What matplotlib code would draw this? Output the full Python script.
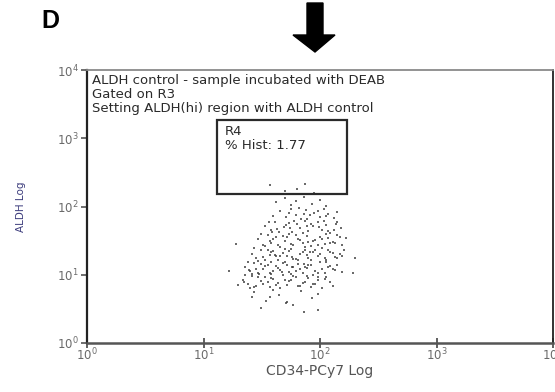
import matplotlib
matplotlib.use("Agg")
import matplotlib.pyplot as plt
import numpy as np
from matplotlib.patches import Polygon, Rectangle

# events, stored as log10 values, grouped by band of ALDH
in_gate_x = [1.57, 1.87, 1.70, 1.80, 1.95]
in_gate_y = [2.32, 2.33, 2.22, 2.25, 2.20]

top_x = [1.62, 1.70, 1.79, 1.86, 1.93, 2.00, 2.05, 1.75]
top_y = [2.06, 2.12, 2.08, 2.14, 2.03, 2.09, 2.01, 2.02]

band_a_x = [1.60, 1.66, 1.71, 1.75, 1.79, 1.84, 1.88, 1.91, 1.95, 2.00,
            2.03, 2.07, 2.12, 2.15, 1.73, 1.82, 1.89, 1.98, 2.05, 1.86]
band_a_y = [1.86, 1.93, 1.84, 1.97, 1.88, 1.82, 1.95, 1.87, 1.91, 1.85,
            1.96, 1.89, 1.83, 1.92, 1.90, 1.98, 1.81, 1.94, 1.86, 1.89]

band_b_x = [1.53, 1.58, 1.61, 1.65, 1.69, 1.73, 1.76, 1.80, 1.83, 1.87,
            1.90, 1.94, 1.98, 2.02, 2.05, 2.09, 2.14, 2.18, 1.56, 1.63,
            1.71, 1.78, 1.85, 1.92, 1.99, 2.07, 2.15, 1.59, 1.74, 1.89,
            2.03, 2.12]
band_b_y = [1.72, 1.65, 1.78, 1.62, 1.70, 1.76, 1.63, 1.74, 1.68, 1.79,
            1.64, 1.71, 1.77, 1.66, 1.73, 1.61, 1.75, 1.69, 1.78, 1.67,
            1.73, 1.79, 1.61, 1.75, 1.70, 1.64, 1.77, 1.63, 1.68, 1.72,
            1.79, 1.66]

band_c_x = [1.47, 1.51, 1.55, 1.58, 1.62, 1.66, 1.70, 1.73, 1.77, 1.81,
            1.85, 1.89, 1.92, 1.96, 2.00, 2.04, 2.07, 2.11, 2.15, 2.19,
            1.49, 1.57, 1.64, 1.72, 1.79, 1.87, 1.94, 2.02, 2.09, 2.17,
            1.53, 1.60, 1.68, 1.75, 1.83, 1.90, 1.98, 2.05, 2.13, 2.22]
band_c_y = [1.52, 1.44, 1.58, 1.47, 1.55, 1.41, 1.50, 1.59, 1.43, 1.53,
            1.46, 1.57, 1.42, 1.51, 1.56, 1.45, 1.54, 1.48, 1.58, 1.43,
            1.59, 1.49, 1.44, 1.55, 1.58, 1.41, 1.50, 1.53, 1.46, 1.56,
            1.42, 1.52, 1.57, 1.45, 1.51, 1.48, 1.43, 1.59, 1.47, 1.54]

band_d_x = [1.42, 1.45, 1.49, 1.53, 1.57, 1.60, 1.64, 1.68, 1.72, 1.75,
            1.79, 1.83, 1.87, 1.90, 1.94, 1.98, 2.02, 2.05, 2.09, 2.13,
            2.17, 2.21, 1.43, 1.51, 1.58, 1.66, 1.73, 1.81, 1.89, 1.96,
            2.04, 2.11, 2.19, 1.47, 1.55, 1.62, 1.70, 1.77, 1.85, 1.92,
            2.00, 2.07, 2.15, 1.61, 1.76, 1.91]
band_d_y = [1.31, 1.24, 1.37, 1.22, 1.29, 1.35, 1.21, 1.32, 1.27, 1.38,
            1.23, 1.30, 1.36, 1.25, 1.33, 1.28, 1.39, 1.22, 1.34, 1.26,
            1.31, 1.37, 1.39, 1.26, 1.33, 1.28, 1.35, 1.21, 1.29, 1.37,
            1.24, 1.32, 1.27, 1.20, 1.36, 1.27, 1.38, 1.23, 1.34, 1.21,
            1.30, 1.37, 1.25, 1.29, 1.26, 1.34]

band_e_x = [1.36, 1.40, 1.43, 1.47, 1.51, 1.55, 1.58, 1.62, 1.66, 1.70,
            1.73, 1.77, 1.81, 1.85, 1.89, 1.92, 1.96, 2.00, 2.04, 2.07,
            2.11, 2.15, 2.19, 1.38, 1.45, 1.53, 1.60, 1.68, 1.75, 1.83,
            1.90, 1.98, 2.05, 2.13, 1.42, 1.49, 1.57, 1.64, 1.72, 1.79,
            1.87, 1.94, 2.02, 2.09, 1.39, 1.48, 1.58, 1.67, 1.76, 1.86]
band_e_y = [1.12, 1.05, 1.17, 1.02, 1.09, 1.15, 1.01, 1.13, 1.07, 1.18,
            1.04, 1.11, 1.16, 1.03, 1.10, 1.14, 1.06, 1.19, 1.02, 1.12,
            1.08, 1.15, 1.04, 1.19, 1.08, 1.13, 1.05, 1.17, 1.01, 1.09,
            1.14, 1.02, 1.18, 1.07, 1.01, 1.16, 1.03, 1.10, 1.15, 1.06,
            1.12, 1.00, 1.08, 1.13, 1.07, 1.01, 1.19, 1.04, 1.11, 1.16]

band_f_x = [1.34, 1.38, 1.42, 1.45, 1.49, 1.53, 1.57, 1.60, 1.64, 1.68,
            1.72, 1.75, 1.79, 1.83, 1.87, 1.90, 1.94, 1.98, 2.02, 2.05,
            2.09, 1.36, 1.43, 1.51, 1.58, 1.66, 1.73, 1.81, 1.89, 1.96,
            2.04, 2.11, 1.40, 1.47, 1.55, 1.62, 1.70, 1.77, 1.85, 1.92,
            1.98, 1.35]
band_f_y = [0.93, 0.86, 0.98, 0.84, 0.91, 0.96, 0.82, 0.94, 0.88, 0.99,
            0.85, 0.92, 0.97, 0.83, 0.90, 0.95, 0.87, 0.93, 0.81, 0.96,
            0.89, 0.99, 0.82, 0.87, 0.95, 0.80, 0.91, 0.84, 0.98, 0.86,
            0.94, 0.83, 0.81, 0.97, 0.90, 0.85, 0.93, 0.98, 0.88, 0.82,
            0.96, 0.89]

low_x = [1.43, 1.54, 1.65, 1.77, 1.86, 1.93, 1.49, 1.60, 1.72, 1.98,
         1.57, 1.84, 1.71, 1.98, 1.42]
low_y = [0.74, 0.62, 0.70, 0.55, 0.46, 0.66, 0.52, 0.78, 0.60, 0.72,
         0.68, 0.76, 0.59, 0.48, 0.68]

stray_x = [1.22, 1.28, 2.30, 2.28, 1.30]
stray_y = [1.05, 1.45, 1.25, 1.02, 0.85]

# R4 gate (log10 limits)
gate_x = [1.116, 2.232]
gate_y = [2.183, 3.267]
gate_pct = 1.77

header_lines = [
    "ALDH control - sample incubated with DEAB",
    "Gated on R3",
    "Setting ALDH(hi) region with ALDH control",
]

log_x = np.array(in_gate_x + top_x + band_a_x + band_b_x + band_c_x
                 + band_d_x + band_e_x + band_f_x + low_x + stray_x)
log_y = np.array(in_gate_y + top_y + band_a_y + band_b_y + band_c_y
                 + band_d_y + band_e_y + band_f_y + low_y + stray_y)

plt.rcParams["font.family"] = ["DejaVu Sans"]

fig = plt.figure(figsize=(5.55, 3.92), dpi=100)
ax = fig.add_axes([0.1568, 0.125, 0.8396, 0.6964])

ax.scatter(10 ** log_x, 10 ** log_y, s=3, marker="s", color="#3a3a3a",
           alpha=0.75, linewidths=0)

ax.add_patch(Rectangle((10 ** gate_x[0], 10 ** gate_y[0]),
                       10 ** gate_x[1] - 10 ** gate_x[0],
                       10 ** gate_y[1] - 10 ** gate_y[0],
                       fill=False, edgecolor="#2a2a2a", linewidth=1.6))

ax.set_xscale("log")
ax.set_yscale("log")
ax.set_xlim(1, 1e4)
ax.set_ylim(1, 1e4)
ax.set_xticks([1, 10, 100, 1000, 10000])
ax.set_yticks([1, 10, 100, 1000, 10000])
ax.minorticks_off()

ax.tick_params(axis="x", direction="inout", length=7, width=1.2,
               colors="#444444", labelsize=8.5, labelcolor="#6a6a6a", pad=-1)
ax.tick_params(axis="y", direction="out", length=4, width=1.2,
               colors="#555555", labelsize=8.5, labelcolor="#6a6a6a", pad=2)

ax.spines["left"].set_color("#222222")
ax.spines["left"].set_linewidth(1.6)
ax.spines["bottom"].set_color("#555555")
ax.spines["bottom"].set_linewidth(1.8)
ax.spines["top"].set_color("#8a8a8a")
ax.spines["top"].set_linewidth(1.3)
ax.spines["right"].set_color("#222222")
ax.spines["right"].set_linewidth(1.3)

ax.set_xlabel("CD34-PCy7 Log", fontsize=10, color="#555555", labelpad=1)
ax.set_ylabel("ALDH Log", fontsize=7.5, color="#3c3c7c", labelpad=22)

for text, ypos in zip(header_lines, [0.962, 0.910, 0.858]):
    ax.text(0.011, ypos, text, transform=ax.transAxes, fontsize=9.5,
            color="#2a2a2a", va="center", ha="left")

ax.text(0.296, 0.773, "R4", transform=ax.transAxes, fontsize=9.5,
        color="#2a2a2a", va="center", ha="left")
ax.text(0.296, 0.725, f"% Hist: {gate_pct:.2f}", transform=ax.transAxes,
        fontsize=9.5, color="#2a2a2a", va="center", ha="left")

# panel letter and the arrow above the plot
fig.text(0.075, 0.946, "D", fontsize=18, fontweight="bold",
         family="Liberation Sans", va="center", ha="left")

arrow_px = [(307, 3), (323, 3), (323, 35), (335, 35), (315, 52),
            (293, 35), (307, 35)]
arrow = Polygon([(x / 555, 1 - y / 392) for x, y in arrow_px],
                closed=True, facecolor="black", edgecolor="black",
                transform=fig.transFigure)
fig.add_artist(arrow)

fig.savefig("out.png", dpi=100)
